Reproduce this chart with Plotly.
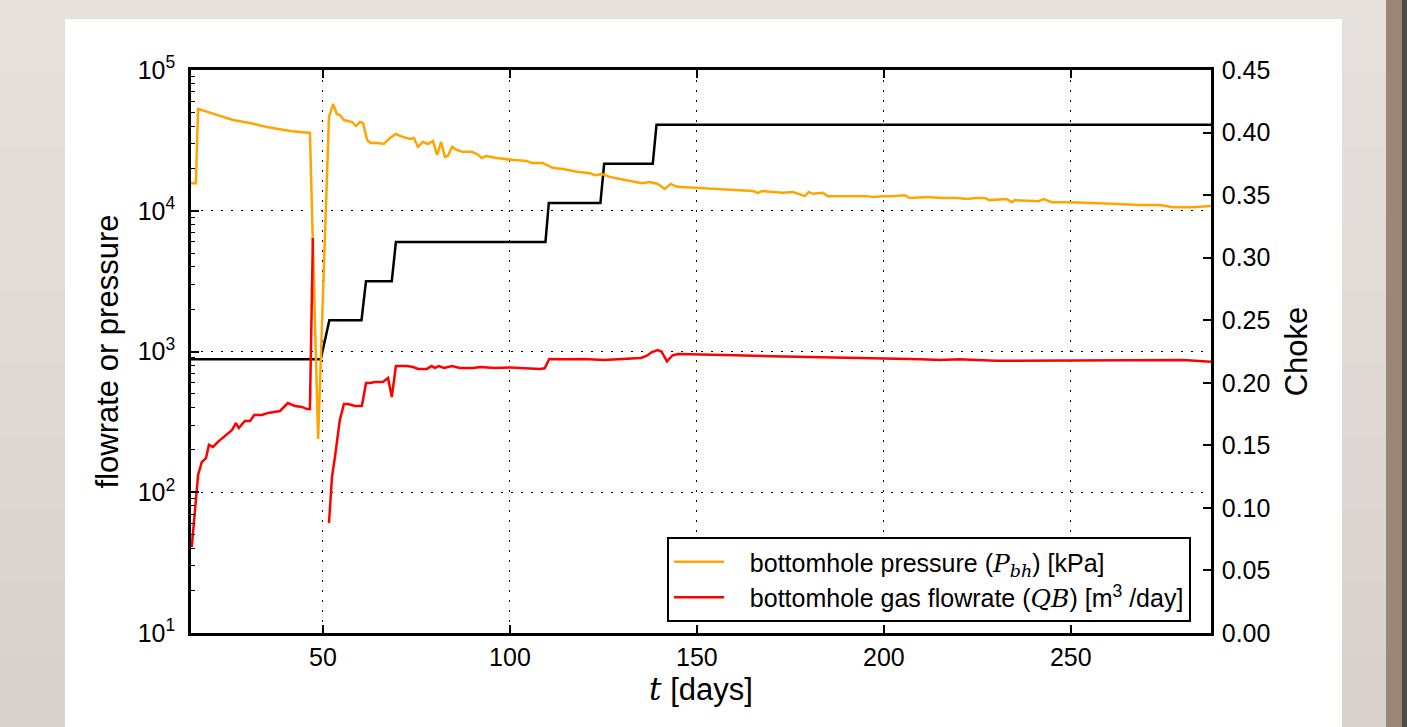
import plotly.graph_objects as go

# ---------------- data ----------------
p_days = [14.7, 16.0, 16.6, 21.7, 25.9, 30.5, 35.0, 41.2, 46.5, 48.7, 51.6, 52.7, 53.7, 54.5,
          55.6, 57.8, 58.8, 59.9, 60.7, 61.8, 62.8, 64.7, 66.3, 67.9, 69.5, 71.4, 73.3, 74.3,
          75.4, 76.7, 78.1, 79.4, 80.5, 81.6, 82.6, 83.4, 84.5, 85.8, 87.4, 89.8, 91.2, 92.5,
          93.6, 96.5, 98.7, 100.5, 104.5, 105.9, 108.8, 111.5, 114.2, 117.9, 121.4, 122.7,
          124.6, 126.7, 129.4, 132.1, 135.3, 137.4, 139.6, 141.4, 143.0, 144.7, 150.0, 155.3,
          159.6, 165.0, 166.3, 167.4, 170.3, 173.0, 175.7, 178.9, 179.9, 181.0, 183.7, 185.0,
          188.2, 191.7, 195.5, 197.1, 199.7, 202.4, 205.6, 207.0, 209.6, 211.5, 215.8, 219.5,
          222.5, 224.3, 227.0, 228.3, 232.9, 234.2, 235.0, 239.8, 241.4, 242.8, 244.9, 249.7,
          255.1, 261.2, 268.4, 273.8, 277.3, 282.6, 287.5]
p_kpa = [15700, 15700, 52900, 47900, 44100, 42000, 39400, 36900, 35700, 239, 46400, 57300,
         48700, 47900, 44100, 42700, 40000, 42700, 42000, 31800, 30300, 30300, 29800, 32900,
         35100, 33400, 32400, 32900, 28400, 30800, 29800, 31300, 24900, 30800, 24100, 24500,
         28400, 27000, 26200, 26200, 25300, 23700, 24500, 23700, 23300, 23000, 22600, 21800,
         21800, 20100, 19800, 18900, 18500, 17900, 18200, 17400, 16800, 16300, 15700, 16000,
         15500, 14300, 15500, 14800, 14500, 14300, 14000, 13800, 13400, 13800, 13600, 13400,
         13600, 12700, 13600, 13200, 13400, 12700, 12700, 12700, 12700, 12500, 12700, 12700,
         12900, 12300, 12500, 12500, 12300, 12300, 12100, 12300, 12300, 11900, 12100, 11500,
         11900, 11700, 11700, 12100, 11500, 11500, 11400, 11200, 11000, 11000, 10600, 10600,
         10800]

q_days = [14.9, 15.8, 16.6, 17.6, 18.7, 19.5, 20.6, 21.9, 24.6, 25.7, 26.7, 27.5, 29.1, 30.5,
          31.6, 33.7, 35.3, 38.5, 40.6, 42.5, 44.4, 45.7, 46.5, 47.3, 48.0, 51.6, 52.4, 53.2,
          54.5, 55.6, 56.7, 58.6, 60.4, 61.5, 62.6, 63.9, 66.0, 67.4, 68.4, 69.5, 72.5, 74.1,
          75.4, 77.8, 79.1, 79.9, 81.0, 82.4, 84.5, 86.6, 90.1, 92.0, 96.0, 100.0, 104.0,
          108.0, 109.3, 110.5, 115.0, 120.0, 125.0, 130.0, 135.0, 136.5, 138.0, 139.5, 140.5,
          142.0, 143.5, 145.0, 150.0, 160.0, 170.0, 180.0, 190.0, 200.0, 210.0, 215.0, 220.0,
          230.0, 240.0, 250.0, 260.0, 270.0, 280.0, 287.5]
q_m3d = [40.8, 78.5, 133, 164, 175, 217, 210, 228, 264, 277, 310, 286, 321, 321, 354, 354,
         366, 378, 430, 410, 404, 390, 390, 6400, None, 60.5, 128, 178, 326, 424, 424, 410,
         410, 597, 597, 607, 607, 649, 475, 789, 789, 776, 752, 752, 789, 764, 789, 764, 789,
         764, 764, 776, 764, 770, 760, 752, 760, 885, 880, 885, 870, 880, 900, 930, 991, 1023,
         1000, 850, 940, 959, 955, 940, 925, 915, 900, 890, 880, 870, 880, 860, 860, 870, 865,
         870, 870, 845]

choke_days = [14.7, 49.4, 51.7, 60.3, 61.5, 68.4, 69.5, 109.5, 110.4, 124.2, 125.2, 138.2,
              139.2, 287.5]
choke_vals = [0.21875, 0.21875, 0.25, 0.25, 0.28125, 0.28125, 0.3125, 0.3125, 0.34375,
              0.34375, 0.375, 0.375, 0.40625, 0.40625]

x_ticks = [50, 100, 150, 200, 250]
log_ticks = [10, 100, 1000, 10000, 100000]
log_tick_text = ["10<sup>1</sup>", "10<sup>2</sup>", "10<sup>3</sup>", "10<sup>4</sup>",
                 "10<sup>5</sup>"]

# ---------------- figure ----------------
SANS = "Liberation Sans, Arial, sans-serif"
W, H = 1427, 727
L, R, T, B = 191, 216, 70, 94
PW, PH = W - L - R, H - T - B
NB = "\u00a0"


def px(x):
    return (x - L) / PW


def py(y):
    return (H - B - y) / PH


fig = go.Figure()

fig.add_trace(go.Scatter(x=choke_days, y=choke_vals, mode="lines", yaxis="y",
                         line=dict(color="black", width=2.5), showlegend=False,
                         name="choke"))
fig.add_trace(go.Scatter(x=p_days, y=p_kpa, mode="lines", yaxis="y2",
                         line=dict(color="#FFA500", width=2.5),
                         name=NB * 3 + "bottomhole pressure (<span style='font-family:DejaVu Serif'><i>P</i><sub><i>bh</i></sub></span>) [kPa]"))
fig.add_trace(go.Scatter(x=q_days, y=q_m3d, mode="lines", yaxis="y2", connectgaps=False,
                         line=dict(color="#FF0000", width=2.5),
                         name=NB * 3 + "bottomhole gas flowrate (<span style='font-family:DejaVu Serif'><i>QB</i></span>) [m<sup>3</sup> /day]"))

# background: gradient frame, white panel, right strips
shapes = []
bands = 10
for i in range(bands):
    c0 = (230, 225, 221)
    c1 = (217, 209, 204)
    f = i / (bands - 1)
    col = "rgb(%d,%d,%d)" % tuple(round(a + (b - a) * f) for a, b in zip(c0, c1))
    y_top = H * i / bands
    y_bot = H * (i + 1) / bands + 1
    shapes.append(dict(type="rect", xref="paper", yref="paper", layer="below",
                       x0=px(0), x1=px(1386), y0=py(y_bot), y1=py(y_top),
                       fillcolor=col, line=dict(width=0)))
shapes.append(dict(type="rect", xref="paper", yref="paper", layer="below",
                   x0=px(65), x1=px(1342), y0=py(H + 2), y1=py(19),
                   fillcolor="white", line=dict(width=0)))
shapes.append(dict(type="rect", xref="paper", yref="paper", layer="below",
                   x0=px(1386), x1=px(1402), y0=py(H + 2), y1=py(-2),
                   fillcolor="#9c8676", line=dict(width=0)))
shapes.append(dict(type="rect", xref="paper", yref="paper", layer="below",
                   x0=px(1402), x1=px(1407), y0=py(H + 2), y1=py(-2),
                   fillcolor="#4d4b4a", line=dict(width=0)))
shapes.append(dict(type="rect", xref="paper", yref="paper", layer="below",
                   x0=px(1407), x1=px(W + 2), y0=py(H + 2), y1=py(-2),
                   fillcolor="white", line=dict(width=0)))

fig.update_layout(
    width=W, height=H,
    margin=dict(l=L, r=R, t=T, b=B, autoexpand=False),
    paper_bgcolor="#e2dcd8", plot_bgcolor="white",
    font=dict(family=SANS, size=24, color="black"),
    shapes=shapes,
    showlegend=True,
    legend=dict(x=px(667), y=py(537), xanchor="left", yanchor="top",
                bgcolor="white", bordercolor="black", borderwidth=2,
                font=dict(family=SANS, size=25, color="black"),
                tracegroupgap=0, itemwidth=50),
    xaxis=dict(range=[14.7, 287.5], tickvals=x_ticks, ticks="inside", ticklen=8,
               tickwidth=1.5, tickcolor="black", showline=True, linecolor="black",
               linewidth=2.5, mirror="ticks", showgrid=True, gridcolor="black",
               gridwidth=1.4, griddash="2px,8px", zeroline=False,
               tickfont=dict(size=25),
               title=dict(text="<span style='font-family:DejaVu Serif'><i>t</i></span> [days]",
                          font=dict(size=31), standoff=8)),
    yaxis=dict(range=[0, 0.45], dtick=0.05, tickformat=".2f", side="right",
               ticks="inside", ticklen=8, tickwidth=1.5, tickcolor="black",
               showline=True, linecolor="black", linewidth=2.5, showgrid=False,
               zeroline=False, tickfont=dict(size=25), ticklabelstandoff=3,
               title=dict(text="Choke", font=dict(size=31), standoff=16)),
    yaxis2=dict(type="log", range=[1, 5], overlaying="y", side="left",
                tickvals=log_ticks, ticktext=log_tick_text, ticks="inside", ticklen=8,
                tickwidth=1.5, tickcolor="black", showline=True, linecolor="black",
                linewidth=2.5, showgrid=True, gridcolor="black", gridwidth=1.4,
                griddash="2px,8px", zeroline=False, tickfont=dict(size=25),
                ticklabelstandoff=8,
                minor=dict(ticks="inside", ticklen=4, tickwidth=1.2, tickcolor="black",
                           showgrid=False, dtick="D1"),
                title=dict(text="flowrate or pressure", font=dict(size=31), standoff=10)),
)

fig.write_html("out.html")
